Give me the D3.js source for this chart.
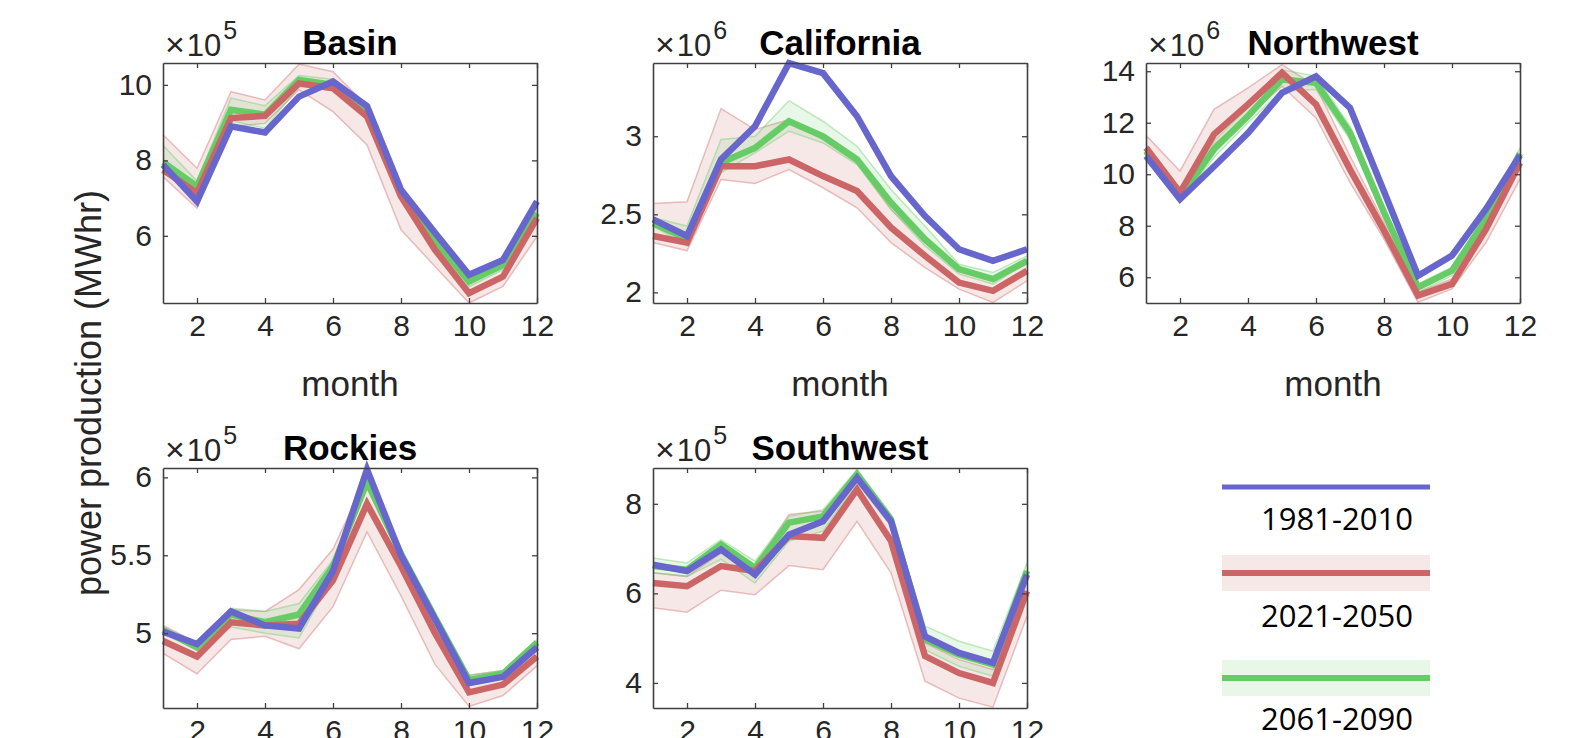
<!DOCTYPE html>
<html>
<head>
<meta charset="utf-8">
<script src="https://cdn.jsdelivr.net/npm/d3@7"></script>
<style>
  body { margin: 0; background: #fff; }
  svg { display: block; }
  .tick text { font-family: "Liberation Sans", Arial, sans-serif; fill: #262626; }
</style>
</head>
<body>
<div id="vis"></div>
<script>
// ---- data (values in units of 10^exp MWhr) ----
const months = [1, 2, 3, 4, 5, 6, 7, 8, 9, 10, 11, 12];
const regions = ["Basin", "California", "Northwest", "Rockies", "Southwest"];
const exponents = [5, 6, 6, 5, 5];
const yTicks = [[6, 8, 10], [2, 2.5, 3], [6, 8, 10, 12, 14], [5, 5.5, 6], [4, 6, 8]];
const yLimits = [[4.22, 10.58], [1.932, 3.469], [5.0, 14.32], [4.52, 6.06], [3.44, 8.80]];
const xTicks = [2, 4, 6, 8, 10, 12];
const periods = ["1981-2010", "2021-2050", "2061-2090"];

const basinHist   = [7.88, 6.91, 8.90, 8.74, 9.69, 10.09, 9.44, 7.22, 6.08, 4.97, 5.36, 6.91];
const basinNear   = [7.75, 7.13, 9.12, 9.18, 10.04, 9.91, 9.16, 7.04, 5.63, 4.48, 4.92, 6.47];
const basinNearHi = [8.68, 7.79, 9.82, 9.60, 10.55, 10.35, 9.45, 7.30, 5.95, 4.75, 5.20, 6.85];
const basinNearLo = [7.57, 6.73, 8.90, 8.98, 9.87, 9.29, 8.41, 6.16, 5.19, 4.22, 4.66, 5.98];
const basinFar    = [7.95, 7.31, 9.34, 9.21, 10.13, 10.00, 9.29, 7.13, 5.89, 4.79, 5.23, 6.60];
const basinFarHi  = [8.40, 7.45, 9.65, 9.45, 10.25, 10.15, 9.40, 7.25, 6.00, 4.90, 5.35, 6.75];
const basinFarLo  = [7.80, 7.15, 9.05, 8.85, 9.95, 9.90, 9.20, 7.00, 5.75, 4.65, 5.10, 6.45];

const califHist   = [2.468, 2.361, 2.851, 3.064, 3.468, 3.404, 3.128, 2.745, 2.489, 2.276, 2.202, 2.276];
const califNear   = [2.361, 2.319, 2.808, 2.808, 2.851, 2.745, 2.649, 2.415, 2.234, 2.063, 2.010, 2.138];
const califNearHi = [2.570, 2.581, 3.177, 3.043, 3.106, 2.979, 2.830, 2.532, 2.319, 2.149, 2.085, 2.212];
const califNearLo = [2.319, 2.266, 2.723, 2.698, 2.787, 2.670, 2.542, 2.319, 2.159, 2.021, 1.936, 2.074];
const califFar    = [2.442, 2.344, 2.830, 2.925, 3.096, 3.000, 2.851, 2.574, 2.340, 2.149, 2.085, 2.202];
const califFarHi  = [2.479, 2.425, 2.979, 3.000, 3.228, 3.096, 2.936, 2.659, 2.425, 2.180, 2.127, 2.234];
const califFarLo  = [2.425, 2.298, 2.766, 2.894, 3.032, 2.957, 2.819, 2.532, 2.298, 2.117, 2.053, 2.191];

const nwHist   = [10.71, 9.03, 10.30, 11.60, 13.16, 13.80, 12.58, 9.33, 6.06, 6.84, 8.65, 10.74];
const nwNear   = [11.03, 9.29, 11.55, 12.71, 13.94, 12.71, 10.19, 7.81, 5.29, 5.74, 7.87, 10.45];
const nwNearHi = [11.51, 10.13, 12.52, 13.35, 14.26, 13.42, 10.71, 8.13, 5.42, 5.94, 8.26, 10.71];
const nwNearLo = [10.84, 9.16, 11.16, 12.26, 13.42, 12.19, 9.68, 7.48, 5.03, 5.55, 7.35, 9.81];
const nwFar    = [10.90, 9.10, 10.97, 12.26, 13.68, 13.55, 11.61, 8.52, 5.61, 6.26, 8.26, 10.81];
const nwFarHi  = [11.16, 9.23, 11.29, 12.58, 14.06, 13.81, 11.87, 8.71, 5.74, 6.39, 8.45, 11.03];
const nwFarLo  = [10.71, 8.90, 10.65, 12.00, 13.23, 13.29, 11.35, 8.32, 5.42, 6.06, 8.00, 10.58];

const rockHist   = [5.01, 4.93, 5.14, 5.05, 5.03, 5.40, 6.05, 5.50, 5.09, 4.68, 4.72, 4.91];
const rockNear   = [4.95, 4.85, 5.07, 5.05, 5.06, 5.34, 5.83, 5.43, 5.00, 4.62, 4.67, 4.85];
const rockNearHi = [5.05, 4.94, 5.15, 5.14, 5.28, 5.54, 6.01, 5.51, 5.11, 4.73, 4.76, 4.95];
const rockNearLo = [4.87, 4.74, 4.96, 4.98, 4.90, 5.17, 5.65, 5.24, 4.80, 4.53, 4.60, 4.79];
const rockFar    = [5.02, 4.91, 5.12, 5.07, 5.12, 5.43, 5.97, 5.51, 5.10, 4.70, 4.74, 4.94];
const rockFarHi  = [5.04, 4.94, 5.16, 5.14, 5.19, 5.47, 5.99, 5.53, 5.12, 4.73, 4.76, 4.96];
const rockFarLo  = [5.00, 4.89, 5.04, 5.00, 4.97, 5.36, 5.94, 5.49, 5.07, 4.68, 4.72, 4.91];

const swHist   = [6.64, 6.50, 6.98, 6.42, 7.31, 7.61, 8.58, 7.61, 5.04, 4.67, 4.45, 6.42];
const swNear   = [6.23, 6.16, 6.61, 6.50, 7.28, 7.24, 8.32, 7.17, 4.60, 4.22, 4.00, 6.05];
const swNearHi = [6.46, 6.38, 6.90, 6.61, 7.76, 7.84, 8.66, 7.65, 4.89, 4.52, 4.30, 6.38];
const swNearLo = [5.68, 5.58, 6.07, 5.97, 6.62, 6.53, 7.61, 6.46, 4.04, 3.66, 3.46, 5.49];
const swFar    = [6.61, 6.53, 7.09, 6.57, 7.58, 7.72, 8.66, 7.65, 4.97, 4.63, 4.41, 6.50];
const swFarHi  = [6.79, 6.68, 7.20, 6.72, 7.72, 7.87, 8.77, 7.76, 5.27, 4.93, 4.71, 6.68];
const swFarLo  = [6.46, 6.38, 6.76, 6.23, 7.17, 7.39, 8.47, 7.50, 4.74, 4.37, 4.15, 6.31];

const hist   = [basinHist, califHist, nwHist, rockHist, swHist];
const near   = [basinNear, califNear, nwNear, rockNear, swNear];
const nearHi = [basinNearHi, califNearHi, nwNearHi, rockNearHi, swNearHi];
const nearLo = [basinNearLo, califNearLo, nwNearLo, rockNearLo, swNearLo];
const far    = [basinFar, califFar, nwFar, rockFar, swFar];
const farHi  = [basinFarHi, califFarHi, nwFarHi, rockFarHi, swFarHi];
const farLo  = [basinFarLo, califFarLo, nwFarLo, rockFarLo, swFarLo];

// ---- layout ----
const W = 1575, H = 738;
const pw = 374, ph = 240;
const origins = [[163, 63], [653, 63], [1146, 63], [163, 468], [653, 468]];
const colors = { hist: "#6666cc", near: "#cc6666", far: "#66cc66" };

const svg = d3.select("#vis").append("svg")
  .attr("width", W).attr("height", H)
  .attr("viewBox", `0 0 ${W} ${H}`);

regions.forEach((name, i) => {
  const [ox, oy] = origins[i];
  const g = svg.append("g").attr("transform", `translate(${ox},${oy})`);

  const x = d3.scaleLinear().domain([1, 12]).range([0, pw]);
  const y = d3.scaleLinear().domain(yLimits[i]).range([ph, 0]);

  const line = arr => d3.line().x((d, k) => x(months[k])).y(d => y(d))(arr);
  const area = (lo, hi) => d3.area()
    .x((d, k) => x(months[k]))
    .y0((d, k) => y(lo[k]))
    .y1((d, k) => y(hi[k]))(months);

  // bands
  g.append("path").attr("d", area(nearLo[i], nearHi[i]))
    .attr("fill", colors.near).attr("fill-opacity", 0.15);
  [nearLo[i], nearHi[i]].forEach(a => g.append("path").attr("d", line(a))
    .attr("fill", "none").attr("stroke", colors.near).attr("stroke-opacity", 0.4).attr("stroke-width", 1.5));
  g.append("path").attr("d", area(farLo[i], farHi[i]))
    .attr("fill", colors.far).attr("fill-opacity", 0.15);
  [farLo[i], farHi[i]].forEach(a => g.append("path").attr("d", line(a))
    .attr("fill", "none").attr("stroke", colors.far).attr("stroke-opacity", 0.4).attr("stroke-width", 1.5));

  // mean lines
  [[far[i], colors.far], [near[i], colors.near], [hist[i], colors.hist]].forEach(([a, c]) => {
    g.append("path").attr("d", line(a))
      .attr("fill", "none").attr("stroke", c).attr("stroke-width", 6.5)
      .attr("stroke-linejoin", "miter").attr("stroke-miterlimit", 3);
  });

  // axes with inward ticks, box on all sides
  const styleAxis = sel => {
    sel.select(".domain").attr("stroke", "#404040").attr("stroke-width", 1.6);
    sel.selectAll(".tick line").attr("stroke", "#404040").attr("stroke-width", 1.3);
    sel.selectAll(".tick text").style("font-size", "30px");
  };
  g.append("g").attr("transform", `translate(0,${ph})`)
    .call(d3.axisBottom(x).tickValues(xTicks).tickSizeInner(-5).tickSizeOuter(0).tickPadding(12))
    .call(styleAxis);
  g.append("g")
    .call(d3.axisTop(x).tickValues(xTicks).tickSizeInner(-5).tickSizeOuter(0).tickFormat(""))
    .call(styleAxis);
  g.append("g")
    .call(d3.axisLeft(y).tickValues(yTicks[i]).tickSizeInner(-5).tickSizeOuter(0).tickPadding(11).tickFormat(d3.format("")))
    .call(styleAxis);
  g.append("g").attr("transform", `translate(${pw},0)`)
    .call(d3.axisRight(y).tickValues(yTicks[i]).tickSizeInner(-5).tickSizeOuter(0).tickFormat(""))
    .call(styleAxis);

  // title
  g.append("text").attr("x", pw / 2).attr("y", -8)
    .attr("text-anchor", "middle")
    .style("font-family", "Liberation Sans, Arial, sans-serif")
    .style("font-weight", "bold").style("font-size", "35px").attr("fill", "#000")
    .text(name);

  // exponent
  const ex = g.append("text").attr("x", 2).attr("y", -7)
    .style("font-family", "Liberation Sans, Arial, sans-serif")
    .style("font-size", "31px").attr("fill", "#262626");
  ex.append("tspan").style("font-size", "34px").style("font-weight", "300").text("\u00d7");
  ex.append("tspan").attr("dx", 2).text("10");
  ex.append("tspan").attr("dy", -17).attr("dx", 2).style("font-size", "25px").text(exponents[i]);

  // x label for top row
  if (i < 3) {
    g.append("text").attr("x", pw / 2).attr("y", ph + 93)
      .attr("text-anchor", "middle")
      .style("font-family", "Liberation Sans, Arial, sans-serif")
      .style("font-size", "35px").attr("fill", "#262626")
      .text("month");
  }
});

// y label
svg.append("text")
  .attr("transform", "translate(101,393) rotate(-90)")
  .attr("text-anchor", "middle")
  .style("font-family", "Liberation Sans, Arial, sans-serif")
  .style("font-size", "36px").attr("fill", "#262626")
  .text("power production (MWhr)");

// legend
const legend = svg.append("g").attr("transform", "translate(1222,0)");
const legW = 208;
const legRows = [
  { label: periods[0], color: colors.hist, y: 487, band: false, ty: 530 },
  { label: periods[1], color: colors.near, y: 573, band: true, ty: 627 },
  { label: periods[2], color: colors.far, y: 678, band: true, ty: 730 }
];
legRows.forEach(r => {
  if (r.band) {
    legend.append("rect").attr("x", 0).attr("y", r.y - 18).attr("width", legW).attr("height", 36)
      .attr("fill", r.color).attr("fill-opacity", 0.15);
  }
  legend.append("line").attr("x1", 0).attr("x2", legW).attr("y1", r.y).attr("y2", r.y)
    .attr("stroke", r.color).attr("stroke-width", r.band ? 6 : 5);
  legend.append("text").attr("x", 115).attr("y", r.ty)
    .attr("text-anchor", "middle")
    .style("font-family", "Open Sans, sans-serif")
    .style("font-size", "31px").attr("fill", "#000")
    .text(r.label);
});
</script>
</body>
</html>
